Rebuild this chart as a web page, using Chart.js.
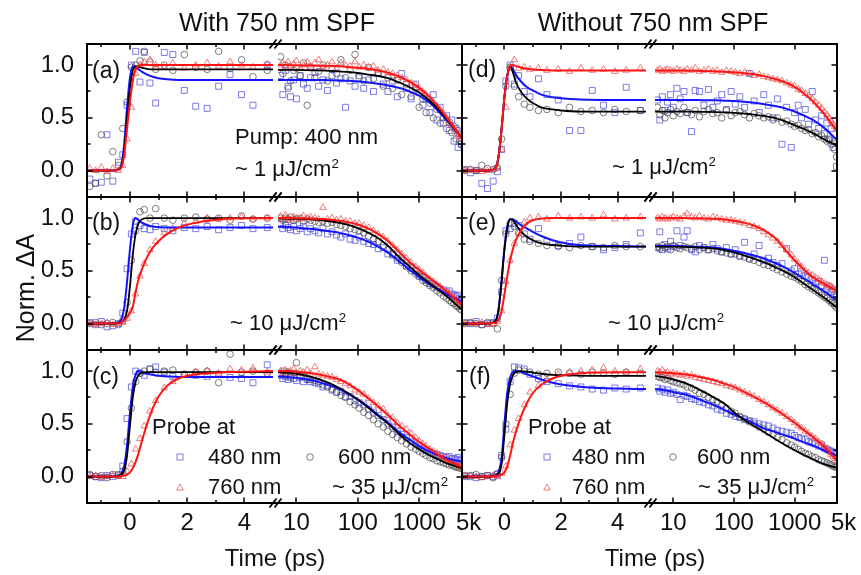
<!DOCTYPE html>
<html><head><meta charset="utf-8">
<script src="https://cdn.jsdelivr.net/npm/chart.js@4.4.1/dist/chart.umd.min.js"></script>
<style>
html,body{margin:0;padding:0;background:#fff;}
#fig{position:relative;width:861px;height:575px;overflow:hidden;background:#fff;font-family:'Liberation Sans',Arial,sans-serif;color:#111;}
#fig canvas{position:absolute;}
.t{position:absolute;line-height:1;white-space:nowrap;z-index:5;}
.c{transform:translate(-50%,-50%);}
.l{transform:translate(0,-50%);}
.sup{font-size:0.6em;position:relative;top:-0.6em;}
#marks{position:absolute;left:0;top:0;z-index:4;}
</style></head><body><div id="fig">
<div class="t c" style="left:277px;top:22px;font-size:25px">With 750 nm SPF</div>
<div class="t c" style="left:653px;top:22px;font-size:25px">Without 750 nm SPF</div>
<div class="t" style="left:25px;top:288px;font-size:25px;transform:translate(-50%,-50%) rotate(-90deg)">Norm. ΔA</div>
<div class="t c" style="left:275px;top:558px;font-size:24px">Time (ps)</div>
<div class="t c" style="left:655px;top:558px;font-size:24px">Time (ps)</div>
<div class="t l" style="left:92px;top:70px;font-size:23px">(a)</div>
<div class="t l" style="left:92px;top:222px;font-size:23px">(b)</div>
<div class="t l" style="left:92px;top:376px;font-size:23px">(c)</div>
<div class="t l" style="left:468px;top:69px;font-size:23px">(d)</div>
<div class="t l" style="left:468px;top:222px;font-size:23px">(e)</div>
<div class="t l" style="left:469px;top:376px;font-size:23px">(f)</div>
<div class="t l" style="left:235px;top:137px;font-size:22px">Pump: 400 nm</div>
<div class="t l" style="left:235px;top:169px;font-size:22px">~ 1 μJ/cm<span class="sup">2</span></div>
<div class="t l" style="left:612px;top:167px;font-size:22px">~ 1 μJ/cm<span class="sup">2</span></div>
<div class="t l" style="left:230px;top:323px;font-size:22px">~ 10 μJ/cm<span class="sup">2</span></div>
<div class="t l" style="left:608px;top:323px;font-size:22px">~ 10 μJ/cm<span class="sup">2</span></div>
<div class="t l" style="left:152px;top:427px;font-size:22px">Probe at</div>
<div class="t l" style="left:208px;top:457px;font-size:22px">480 nm</div>
<div class="t l" style="left:338px;top:457px;font-size:22px">600 nm</div>
<div class="t l" style="left:208px;top:487px;font-size:22px">760 nm</div>
<div class="t l" style="left:332px;top:487px;font-size:22px">~ 35 μJ/cm<span class="sup">2</span></div>
<div class="t l" style="left:528px;top:427px;font-size:22px">Probe at</div>
<div class="t l" style="left:572px;top:457px;font-size:22px">480 nm</div>
<div class="t l" style="left:697px;top:457px;font-size:22px">600 nm</div>
<div class="t l" style="left:572px;top:487px;font-size:22px">760 nm</div>
<div class="t l" style="left:698px;top:487px;font-size:22px">~ 35 μJ/cm<span class="sup">2</span></div>
<svg id="marks" width="861" height="575">
 <g fill="none" stroke-width="1">
  <rect x="177" y="454" width="6" height="6" stroke="rgba(80,80,225,0.75)"/>
  <circle cx="310" cy="457" r="3.3" stroke="rgba(70,70,70,0.7)"/>
  <polygon points="180,484 183.3,490 176.7,490" stroke="rgba(235,80,80,0.75)"/>
  <rect x="544" y="454" width="6" height="6" stroke="rgba(80,80,225,0.75)"/>
  <circle cx="673" cy="457" r="3.3" stroke="rgba(70,70,70,0.7)"/>
  <polygon points="547,484 550.3,490 543.7,490" stroke="rgba(235,80,80,0.75)"/>
 </g>
</svg>
</div>
<script>
// ---- time axes (ps) ----
const tDataL = [-1.4,-1.2,-1.0,-0.8,-0.6,-0.4,-0.25,-0.1,0.05,0.2,0.35,0.5,0.7,0.9,1.2,1.5,1.9,2.3,2.7,3.1,3.5,3.9,4.3,4.8];
const tDataG = [5.5,6,6.6,7.3,8,9,10,11.5,13,15,17,20,23,27,32,38,45,53,63,75,90,105,125,150,180,215,260,310,370,440,520,620,740,880,1000,1150,1300,1500,1700,1950,2200,2500,2800,3100,3400,3700,4000,4300,4600,4900];
const tFitL = [-1.5,-0.6,-0.4,-0.3,-0.2,-0.1,0,0.1,0.2,0.3,0.4,0.6,0.8,1.0,1.3,1.7,2.2,3,4,5];
const tFitG = [5,7,10,15,20,30,50,70,100,150,200,300,500,700,1000,1500,2000,3000,5000];
// ---- tick labels ----
const linTicks = [-1,0,1,2,3,4];
const linTickLabels = ['','0','','2','','4'];
const logTicks = [10,100,1000,5000];
const logTickLabels = ['10','100','1000','5k'];
const yTicks = [0,0.25,0.5,0.75,1];
const yTickLabels = ['0.0','','0.5','','1.0'];

// ---- panel (a) ----
const aBlueL = [-0.08,-0.12,-0.11,0.34,-0.1,0.08,0.15,0.62,1.0,1.13,0.84,1.12,0.83,0.64,1.12,1.1,0.76,0.61,0.59,0.8,0.91,0.72,0.62,1.0];
const aBlackL = [-0.15,-0.12,0.34,-0.05,0.18,0.05,0.4,0.65,0.98,1.0,1.04,1.13,1.03,0.96,1.0,0.95,1.1,0.98,0.96,1.13,0.97,1.05,0.89,0.95];
const aRedL = [0.02,0.0,0.03,-0.01,0.02,0.0,0.05,0.3,0.6,0.92,1.0,1.03,1.05,1.0,0.98,1.02,0.97,1.0,1.02,0.99,1.03,1.0,0.98,1.01];
const aBlueG = [0.9,0.72,0.95,0.8,0.7,0.86,0.68,0.9,0.82,0.78,0.88,0.93,0.8,0.86,0.76,0.9,0.83,0.87,0.6,0.85,0.8,0.88,0.78,0.86,0.75,0.92,0.82,0.75,0.85,0.7,0.92,0.78,0.68,0.82,0.74,0.62,0.68,0.55,0.72,0.48,0.6,0.45,0.52,0.38,0.48,0.28,0.4,0.22,0.35,0.25];
const aBlackG = [1.08,0.92,1.0,0.78,0.85,0.95,0.97,0.9,1.02,0.62,0.98,0.88,0.94,1.0,0.85,0.96,0.92,1.05,0.88,0.95,1.1,0.9,0.85,0.98,0.87,0.93,0.8,0.88,0.78,0.86,0.72,0.82,0.7,0.78,0.6,0.68,0.55,0.64,0.5,0.58,0.45,0.5,0.4,0.46,0.36,0.42,0.3,0.38,0.28,0.25];
const aRedG = [1.0,1.02,0.98,1.03,0.99,1.01,1.04,0.97,1.0,1.03,0.99,1.02,1.05,0.98,1.0,1.03,0.97,1.02,1.0,0.99,1.03,0.98,1.0,0.97,0.99,0.95,0.96,0.93,0.92,0.9,0.88,0.86,0.83,0.81,0.78,0.75,0.72,0.69,0.65,0.61,0.58,0.54,0.5,0.46,0.43,0.4,0.37,0.34,0.32,0.3];
const aRedFitL = [0,0,0.01,0.03,0.15,0.4,0.65,0.85,0.96,0.99,1,1,1,1,1,1,1,1,1,1];
const aBlackFitL = [0,0,0.01,0.04,0.2,0.5,0.78,0.95,0.99,0.985,0.975,0.965,0.96,0.96,0.96,0.96,0.96,0.96,0.96,0.96];
const aBlueFitL = [0,0,0.01,0.05,0.25,0.6,0.88,0.99,0.98,0.96,0.94,0.91,0.89,0.875,0.865,0.86,0.86,0.86,0.86,0.86];
const aRedFitG = [1,1,0.998,0.996,0.995,0.993,0.988,0.983,0.976,0.964,0.952,0.93,0.885,0.843,0.784,0.694,0.614,0.481,0.3];
const aBlackFitG = [0.955,0.955,0.954,0.952,0.95,0.947,0.94,0.935,0.925,0.91,0.9,0.88,0.83,0.79,0.74,0.66,0.59,0.47,0.31];
const aBlueFitG = [0.86,0.86,0.86,0.86,0.86,0.858,0.855,0.852,0.845,0.835,0.825,0.81,0.78,0.75,0.71,0.64,0.57,0.46,0.31];

// ---- panel (b) ----
const bBlueL = [0.01,-0.01,0.02,-0.03,-0.02,0.0,0.1,0.52,0.85,0.97,0.93,0.9,0.89,0.92,0.9,0.88,0.91,0.9,0.92,0.89,0.91,0.93,0.9,0.91];
const bBlackL = [0.0,0.01,-0.01,0.0,0.01,-0.01,0.03,0.2,0.6,0.88,1.06,1.08,1.0,1.09,1.0,0.98,1.0,1.01,0.99,1.0,0.98,1.02,0.99,1.0];
const bRedL = [0.0,-0.01,0.0,0.01,-0.01,0.0,0.01,0.05,0.12,0.28,0.45,0.57,0.7,0.78,0.86,0.9,0.95,0.97,1.0,0.99,1.0,1.01,0.99,1.0];
const bBlueG = [0.94,0.9,0.93,0.91,0.89,0.92,0.88,0.9,0.92,0.87,0.9,0.88,0.86,0.9,0.85,0.87,0.84,0.82,0.85,0.8,0.79,0.82,0.78,0.76,0.75,0.71,0.72,0.66,0.65,0.6,0.6,0.55,0.52,0.5,0.45,0.44,0.41,0.38,0.37,0.35,0.33,0.32,0.3,0.31,0.28,0.27,0.26,0.27,0.24,0.23];
const bBlackG = [1.0,0.98,1.0,0.99,1.01,0.98,0.99,1.0,0.97,0.99,0.98,0.97,0.96,0.97,0.95,0.96,0.94,0.93,0.92,0.9,0.89,0.88,0.86,0.83,0.8,0.78,0.74,0.7,0.66,0.62,0.58,0.54,0.5,0.47,0.45,0.41,0.39,0.36,0.34,0.31,0.29,0.26,0.24,0.22,0.2,0.19,0.17,0.16,0.14,0.13];
const bRedG = [1.02,0.99,1.03,1.0,0.98,1.01,1.0,0.99,1.02,1.0,1.01,1.0,0.99,1.1,0.99,1.0,0.98,0.99,0.97,0.97,0.95,0.95,0.93,0.91,0.88,0.85,0.82,0.78,0.74,0.7,0.66,0.62,0.58,0.54,0.51,0.48,0.45,0.42,0.4,0.37,0.35,0.32,0.3,0.29,0.26,0.24,0.22,0.21,0.2,0.18];
const bRedFitL = [0,0,0,0.01,0.03,0.06,0.1,0.16,0.3,0.42,0.5,0.63,0.72,0.78,0.85,0.91,0.95,0.985,0.998,1];
const bBlackFitL = [0,0,0.005,0.01,0.04,0.12,0.35,0.65,0.85,0.95,0.985,1,1,1,1,1,1,1,1,1];
const bBlueFitL = [0,0,0.01,0.04,0.15,0.4,0.7,0.93,1,0.98,0.96,0.935,0.92,0.915,0.91,0.91,0.91,0.91,0.91,0.91];
const bRedFitG = [1,1,0.999,0.997,0.994,0.988,0.975,0.962,0.94,0.9,0.86,0.79,0.665,0.585,0.51,0.43,0.375,0.29,0.18];
const bBlackFitG = [0.995,0.995,0.993,0.99,0.985,0.975,0.955,0.935,0.905,0.86,0.82,0.745,0.615,0.54,0.46,0.38,0.325,0.245,0.13];
const bBlueFitG = [0.92,0.915,0.91,0.9,0.895,0.88,0.86,0.84,0.815,0.775,0.74,0.68,0.58,0.51,0.44,0.37,0.33,0.27,0.21];

// ---- panel (c) ----
const cBlueL = [0.01,0.0,-0.01,0.01,0.0,0.02,0.1,0.55,0.85,1.0,0.98,0.96,1.02,1.04,0.99,0.95,0.97,0.96,0.95,0.97,0.94,0.93,0.89,1.06];
const cBlackL = [0.02,0.0,0.01,-0.01,0.02,0.01,0.05,0.33,0.65,0.9,0.98,1.0,1.02,0.99,1.0,1.01,0.97,0.99,1.0,0.89,1.16,0.99,1.0,0.98];
const cRedL = [0.0,0.01,-0.01,0.0,0.01,0.0,0.0,0.05,0.12,0.26,0.36,0.48,0.62,0.72,0.84,0.9,0.96,0.99,1.0,0.98,1.02,1.01,1.03,0.99];
const cBlueG = [0.96,0.93,0.95,0.92,0.94,0.93,0.91,0.94,0.9,0.92,0.9,0.89,0.88,0.85,0.86,0.82,0.8,0.81,0.76,0.76,0.72,0.7,0.68,0.64,0.61,0.58,0.54,0.5,0.47,0.43,0.4,0.37,0.33,0.31,0.29,0.27,0.25,0.23,0.22,0.21,0.2,0.19,0.18,0.19,0.17,0.17,0.16,0.18,0.15,0.16];
const cBlackG = [0.97,1.0,0.96,0.99,0.95,0.98,1.08,0.96,0.95,0.93,0.92,0.91,0.9,0.87,0.85,0.83,0.8,0.77,0.75,0.71,0.68,0.65,0.61,0.58,0.54,0.5,0.47,0.43,0.4,0.37,0.34,0.31,0.28,0.26,0.24,0.22,0.2,0.18,0.17,0.15,0.14,0.13,0.12,0.11,0.11,0.1,0.09,0.09,0.08,0.08];
const cRedG = [1.0,0.98,1.01,0.99,1.0,1.02,0.98,1.0,0.99,1.01,0.98,1.04,0.97,0.96,0.95,0.94,0.92,0.9,0.88,0.86,0.82,0.8,0.78,0.74,0.7,0.67,0.64,0.58,0.56,0.51,0.48,0.45,0.41,0.37,0.34,0.31,0.29,0.26,0.24,0.22,0.2,0.18,0.17,0.15,0.14,0.13,0.12,0.11,0.1,0.09];
const cRedFitL = [0,0,0,0.005,0.01,0.02,0.04,0.08,0.14,0.22,0.32,0.5,0.65,0.76,0.86,0.93,0.965,0.985,0.995,1];
const cBlackFitL = [0,0,0.01,0.02,0.06,0.2,0.48,0.75,0.9,0.96,0.985,0.99,0.99,0.99,0.99,0.99,0.99,0.99,0.99,0.99];
const cBlueFitL = [0,0,0.01,0.03,0.1,0.3,0.6,0.85,0.97,1,0.99,0.975,0.965,0.955,0.95,0.945,0.945,0.945,0.945,0.945];
const cRedFitG = [1,1,0.995,0.985,0.975,0.955,0.92,0.88,0.82,0.74,0.68,0.59,0.47,0.4,0.33,0.26,0.21,0.15,0.09];
const cBlackFitG = [0.99,0.985,0.975,0.955,0.935,0.9,0.84,0.79,0.73,0.65,0.59,0.51,0.39,0.32,0.26,0.2,0.165,0.12,0.08];
const cBlueFitG = [0.95,0.945,0.935,0.92,0.905,0.875,0.83,0.785,0.73,0.66,0.6,0.52,0.41,0.35,0.29,0.235,0.205,0.17,0.14];

// ---- panel (d) ----
const dBlueL = [0.01,-0.02,0.0,-0.12,-0.17,-0.1,-0.01,0.2,0.85,1.0,0.82,0.9,0.75,0.7,0.87,0.72,0.67,0.38,0.38,0.76,0.62,0.55,0.79,0.57];
const dBlackL = [0.0,0.01,0.0,0.05,0.02,0.01,0.03,0.3,0.8,0.98,0.8,0.7,0.63,0.6,0.57,0.58,0.55,0.6,0.56,0.57,0.55,0.58,0.56,0.57];
const dRedL = [0.0,0.01,0.0,-0.01,0.0,0.01,0.03,0.2,0.6,0.98,1.05,0.97,0.98,0.96,0.97,0.95,0.96,0.94,0.97,0.95,0.96,0.94,0.95,0.97];
const dBlueG = [0.67,0.48,0.7,0.57,0.65,0.72,0.6,0.78,0.68,0.75,0.55,0.37,0.76,0.75,0.62,0.77,0.6,0.66,0.72,0.58,0.75,0.63,0.7,0.6,0.92,0.66,0.55,0.72,0.62,0.5,0.68,0.25,0.6,0.22,0.55,0.62,0.5,0.58,0.44,0.75,0.48,0.4,0.52,0.35,0.45,0.3,0.4,0.22,0.28,0.04];
const dBlackG = [0.6,0.53,0.57,0.5,0.55,0.58,0.52,0.56,0.54,0.6,0.55,0.53,0.57,0.51,0.56,0.58,0.54,0.55,0.5,0.57,0.52,0.55,0.56,0.53,0.5,0.54,0.52,0.5,0.51,0.48,0.5,0.46,0.47,0.44,0.42,0.43,0.4,0.38,0.39,0.35,0.36,0.32,0.33,0.3,0.28,0.29,0.25,0.26,0.2,0.13];
const dRedG = [0.95,0.96,0.94,0.95,0.96,0.95,0.94,0.96,0.95,0.94,0.96,0.95,0.97,0.94,0.95,0.96,0.94,0.95,0.93,0.95,0.94,0.93,0.92,0.93,0.92,0.9,0.91,0.89,0.88,0.87,0.86,0.85,0.83,0.81,0.8,0.77,0.76,0.73,0.71,0.68,0.65,0.62,0.59,0.56,0.53,0.5,0.47,0.44,0.42,0.39];
const dRedFitL = [0,0,0.01,0.03,0.15,0.4,0.7,0.9,0.99,1,0.99,0.975,0.965,0.958,0.953,0.95,0.95,0.95,0.95,0.95];
const dBlackFitL = [0,0,0.01,0.03,0.15,0.4,0.7,0.9,0.99,0.93,0.84,0.74,0.68,0.64,0.6,0.58,0.565,0.56,0.56,0.56];
const dBlueFitL = [0,0,0.01,0.03,0.15,0.4,0.7,0.9,0.99,0.96,0.91,0.84,0.79,0.76,0.72,0.695,0.68,0.672,0.67,0.67];
const dRedFitG = [0.95,0.95,0.949,0.948,0.946,0.945,0.941,0.938,0.932,0.924,0.915,0.898,0.866,0.836,0.794,0.722,0.657,0.544,0.376];
const dBlackFitG = [0.56,0.56,0.56,0.56,0.559,0.557,0.555,0.552,0.548,0.54,0.533,0.518,0.495,0.467,0.43,0.39,0.355,0.3,0.235];
const dBlueFitG = [0.67,0.67,0.67,0.67,0.669,0.668,0.666,0.663,0.66,0.652,0.645,0.632,0.61,0.59,0.56,0.515,0.48,0.41,0.29];

// ---- panel (e) ----
const eBlueL = [0.01,0.0,0.02,-0.01,0.0,0.01,0.05,0.3,0.88,0.9,0.95,0.93,0.85,0.8,0.9,0.78,0.74,0.76,0.82,0.73,0.7,0.72,0.75,0.86];
const eBlackL = [0.0,0.01,0.0,-0.01,0.01,0.0,-0.05,0.41,0.85,0.95,0.92,0.86,0.8,0.78,0.76,0.74,0.73,0.72,0.74,0.73,0.72,0.74,0.73,0.73];
const eRedL = [0.0,0.01,0.0,0.01,-0.01,0.0,0.02,0.12,0.4,0.6,0.76,0.86,0.96,1.0,1.01,0.99,1.02,1.0,1.01,1.0,1.03,0.99,1.0,1.01];
const eBlueG = [0.72,0.87,0.7,0.75,0.71,0.78,0.73,0.88,0.74,0.82,0.88,0.7,0.68,0.74,0.72,0.7,0.75,0.71,0.68,0.72,0.66,0.7,0.64,0.77,0.62,0.66,0.74,0.6,0.62,0.58,0.55,0.57,0.71,0.5,0.52,0.47,0.48,0.45,0.44,0.42,0.38,0.4,0.36,0.6,0.33,0.35,0.3,0.32,0.27,0.25];
const eBlackG = [0.73,0.71,0.74,0.72,0.73,0.7,0.74,0.72,0.71,0.73,0.72,0.71,0.73,0.7,0.72,0.7,0.71,0.69,0.68,0.67,0.66,0.66,0.64,0.63,0.61,0.6,0.58,0.56,0.55,0.53,0.51,0.49,0.47,0.45,0.44,0.42,0.4,0.37,0.35,0.33,0.31,0.29,0.27,0.25,0.24,0.22,0.2,0.19,0.17,0.15];
const eRedG = [1.0,0.99,1.01,1.0,0.99,1.0,1.01,1.0,0.99,1.02,1.04,1.01,1.0,1.02,1.0,0.99,1.01,1.0,0.99,0.98,0.98,0.97,0.96,0.95,0.93,0.92,0.9,0.87,0.84,0.81,0.78,0.74,0.7,0.65,0.61,0.57,0.54,0.5,0.48,0.46,0.44,0.42,0.4,0.38,0.37,0.36,0.35,0.34,0.32,0.31];
const eRedFitL = [0,0,0.005,0.01,0.04,0.12,0.28,0.45,0.6,0.71,0.79,0.89,0.95,0.98,0.995,1,1,1,1,1];
const eBlackFitL = [0,0,0.01,0.03,0.15,0.4,0.7,0.9,0.99,0.98,0.94,0.87,0.82,0.79,0.76,0.745,0.735,0.73,0.73,0.73];
const eBlueFitL = [0,0,0.01,0.03,0.15,0.42,0.72,0.92,0.99,0.99,0.97,0.93,0.9,0.87,0.83,0.79,0.76,0.74,0.735,0.73];
const eRedFitG = [1,1,1,1,0.999,0.997,0.993,0.987,0.975,0.955,0.935,0.89,0.8,0.7,0.6,0.5,0.44,0.38,0.31];
const eBlackFitG = [0.73,0.73,0.73,0.728,0.725,0.72,0.71,0.695,0.675,0.645,0.62,0.585,0.53,0.49,0.44,0.37,0.32,0.25,0.15];
const eBlueFitG = [0.735,0.735,0.735,0.733,0.73,0.726,0.718,0.707,0.69,0.67,0.65,0.62,0.57,0.53,0.48,0.42,0.375,0.31,0.22];

// ---- panel (f) ----
const fBlueL = [0.0,0.01,-0.01,0.0,0.01,0.0,0.02,0.2,0.45,0.9,1.04,1.03,1.02,0.97,0.93,0.9,0.88,0.86,0.85,0.83,0.82,0.84,0.83,0.84];
const fBlackL = [0.01,0.0,0.02,0.0,0.01,-0.01,0.03,0.18,0.5,0.78,0.98,1.01,1.0,0.99,0.97,0.98,0.99,0.98,0.97,0.99,0.98,0.97,0.99,0.98];
const fRedL = [0.0,0.01,0.0,-0.01,0.0,0.01,0.0,0.03,0.1,0.3,0.44,0.55,0.68,0.8,0.86,0.92,0.97,0.99,1.0,1.01,1.03,1.0,0.99,1.02];
const fBlueG = [0.84,0.81,0.83,0.8,0.82,0.79,0.8,0.78,0.73,0.77,0.76,0.74,0.73,0.71,0.7,0.68,0.67,0.64,0.63,0.6,0.59,0.57,0.56,0.54,0.53,0.52,0.5,0.49,0.48,0.46,0.44,0.43,0.42,0.41,0.39,0.37,0.36,0.35,0.33,0.32,0.31,0.29,0.3,0.27,0.26,0.25,0.24,0.23,0.22,0.21];
const fBlackG = [0.95,0.94,0.94,0.92,0.93,0.91,0.9,0.89,0.88,0.87,0.85,0.84,0.82,0.79,0.78,0.75,0.73,0.71,0.68,0.65,0.62,0.6,0.57,0.55,0.52,0.5,0.47,0.45,0.42,0.4,0.37,0.35,0.32,0.3,0.28,0.26,0.24,0.22,0.21,0.19,0.18,0.16,0.15,0.14,0.13,0.12,0.11,0.1,0.09,0.09];
const fRedG = [1.0,0.99,1.01,0.98,0.99,0.97,0.98,0.97,0.96,0.97,0.95,0.96,0.94,0.93,0.92,0.91,0.9,0.89,0.88,0.86,0.85,0.84,0.82,0.8,0.78,0.76,0.73,0.71,0.68,0.65,0.63,0.6,0.57,0.54,0.51,0.48,0.46,0.43,0.41,0.38,0.36,0.33,0.31,0.28,0.26,0.24,0.21,0.19,0.17,0.15];
const fRedFitL = [0,0,0,0.005,0.01,0.02,0.04,0.1,0.2,0.32,0.42,0.58,0.7,0.79,0.87,0.93,0.965,0.985,0.99,0.99];
const fBlackFitL = [0,0,0.005,0.01,0.03,0.12,0.4,0.7,0.88,0.96,0.99,1,0.995,0.985,0.975,0.965,0.96,0.955,0.955,0.955];
const fBlueFitL = [0,0,0.005,0.015,0.05,0.18,0.5,0.8,0.94,0.99,1,0.99,0.97,0.95,0.92,0.89,0.865,0.845,0.835,0.83];
const fRedFitG = [0.99,0.985,0.98,0.97,0.96,0.94,0.91,0.88,0.85,0.8,0.765,0.71,0.63,0.575,0.51,0.43,0.375,0.29,0.15];
const fBlackFitG = [0.955,0.94,0.92,0.89,0.86,0.81,0.74,0.69,0.61,0.535,0.49,0.43,0.35,0.3,0.25,0.2,0.165,0.12,0.085];
const fBlueFitG = [0.83,0.82,0.8,0.78,0.76,0.72,0.67,0.63,0.59,0.545,0.515,0.46,0.42,0.39,0.36,0.32,0.295,0.25,0.2];

// ---- build ----
const panels = [
  {row:0,col:0,blue:[aBlueL,aBlueG],black:[aBlackL,aBlackG],red:[aRedL,aRedG],blueFit:[aBlueFitL,aBlueFitG],blackFit:[aBlackFitL,aBlackFitG],redFit:[aRedFitL,aRedFitG]},
  {row:1,col:0,blue:[bBlueL,bBlueG],black:[bBlackL,bBlackG],red:[bRedL,bRedG],blueFit:[bBlueFitL,bBlueFitG],blackFit:[bBlackFitL,bBlackFitG],redFit:[bRedFitL,bRedFitG]},
  {row:2,col:0,blue:[cBlueL,cBlueG],black:[cBlackL,cBlackG],red:[cRedL,cRedG],blueFit:[cBlueFitL,cBlueFitG],blackFit:[cBlackFitL,cBlackFitG],redFit:[cRedFitL,cRedFitG]},
  {row:0,col:1,blue:[dBlueL,dBlueG],black:[dBlackL,dBlackG],red:[dRedL,dRedG],blueFit:[dBlueFitL,dBlueFitG],blackFit:[dBlackFitL,dBlackFitG],redFit:[dRedFitL,dRedFitG]},
  {row:1,col:1,blue:[eBlueL,eBlueG],black:[eBlackL,eBlackG],red:[eRedL,eRedG],blueFit:[eBlueFitL,eBlueFitG],blackFit:[eBlackFitL,eBlackFitG],redFit:[eRedFitL,eRedFitG]},
  {row:2,col:1,blue:[fBlueL,fBlueG],black:[fBlackL,fBlackG],red:[fRedL,fRedG],blueFit:[fBlueFitL,fBlueFitG],blackFit:[fBlackFitL,fBlackFitG],redFit:[fRedFitL,fRedFitG]}
];

const FONT = "'Liberation Sans', Arial, sans-serif";
const ROWS = [[44,197],[197,350],[350,503]];
// lastLabelShift: leading spaces that nudge the "5k" label slightly right of the frame, as in the original
const COLS = [{lin:[87,273],log:[278,462],gap:5,lastLabelShift:2},{lin:[462,646],log:[655,837],gap:9,lastLabelShift:2}];
const M = {left:50,right:40,top:20,bottom:40};
const Y_AX = 45, X_AX = 35;

const framePlugin = {
  id:'frame',
  afterDatasetsDraw(chart, args, o) {
    const ctx = chart.ctx, a = chart.chartArea;
    const xs = chart.scales.x, ys = chart.scales.y;
    ctx.save();
    ctx.strokeStyle = '#000';
    ctx.lineWidth = 1.5;
    ctx.beginPath();
    xs.ticks.forEach(t => {
      const px = Math.round(xs.getPixelForValue(t.value));
      if (px <= a.left + 1 || px >= a.right - 1) return;
      const len = (o.seg === 'lin' && Math.abs(t.value) % 2 === 1) ? 3 : 5.5;
      ctx.moveTo(px, a.bottom); ctx.lineTo(px, a.bottom - len);
      ctx.moveTo(px, a.top); ctx.lineTo(px, a.top + len);
    });
    ys.ticks.forEach(t => {
      const py = Math.round(ys.getPixelForValue(t.value));
      const major = Math.abs(t.value * 2 - Math.round(t.value * 2)) < 1e-6;
      const len = major ? 5.5 : 3.5;
      if (o.seg === 'lin') { ctx.moveTo(a.left, py); ctx.lineTo(a.left + len, py); }
      else { ctx.moveTo(a.right, py); ctx.lineTo(a.right - len, py); }
    });
    ctx.stroke();
    ctx.lineWidth = 2;
    ctx.beginPath();
    if (o.seg === 'lin') {
      ctx.moveTo(a.right + o.gap, a.top); ctx.lineTo(a.left, a.top);
      ctx.lineTo(a.left, a.bottom); ctx.lineTo(a.right + o.gap, a.bottom);
    } else {
      ctx.moveTo(a.left, a.top); ctx.lineTo(a.right, a.top);
      ctx.lineTo(a.right, a.bottom); ctx.lineTo(a.left, a.bottom);
    }
    ctx.stroke();
    if (o.seg === 'log') {
      const cx = a.left - o.gap / 2;
      ctx.lineWidth = 1.8;
      [a.top, a.bottom].forEach(y => {
        ctx.beginPath();
        [-2.5, 2.5].forEach(dx => { ctx.moveTo(cx + dx - 3.5, y + 4.5); ctx.lineTo(cx + dx + 3.5, y - 4.5); });
        ctx.stroke();
      });
    }
    ctx.restore();
  }
};

const pts = (xs, ys) => xs.map((x, i) => ({x: x, y: ys[i]}));
const fig = document.getElementById('fig');

function makeChart(p, seg) {
  const si = seg === 'lin' ? 0 : 1;
  const [y0, y1] = ROWS[p.row];
  const col = COLS[p.col];
  const [x0, x1] = col[seg];
  const W = x1 - x0 + M.left + M.right, H = y1 - y0 + M.top + M.bottom;
  const cv = document.createElement('canvas');
  cv.width = W; cv.height = H;
  cv.style.left = (x0 - M.left) + 'px'; cv.style.top = (y0 - M.top) + 'px';
  cv.style.width = W + 'px'; cv.style.height = H + 'px';
  fig.insertBefore(cv, fig.firstChild);
  const tD = si === 0 ? tDataL : tDataG;
  const tF = si === 0 ? tFitL : tFitG;
  const sc = (ys, style, color, r, order) => ({data: pts(tD, ys), showLine: false, pointStyle: style, pointRadius: r,
      pointBorderColor: color, pointBackgroundColor: 'rgba(0,0,0,0)', pointBorderWidth: 1, order: order});
  const fit = (ys, color, w, order) => ({data: pts(tF, ys), showLine: true, borderColor: color, borderWidth: w,
      pointRadius: 0, cubicInterpolationMode: 'monotone', fill: false, order: order});
  const isLin = seg === 'lin';
  const xLabel = (v, i) => {
    if (isLin) return linTickLabels[i];
    const s = logTickLabels[i];
    return i === logTickLabels.length - 1 ? ' '.repeat(col.lastLabelShift) + s : s;
  };
  new Chart(cv, {
    type: 'scatter',
    data: {datasets: [
      fit(p.redFit[si], '#ff1414', 2, 0),
      fit(p.blackFit[si], '#000000', 1.8, 1),
      fit(p.blueFit[si], '#1414ff', 2, 2),
      sc(p.red[si], 'triangle', 'rgba(235,80,80,0.75)', 3.8, 3),
      sc(p.black[si], 'circle', 'rgba(70,70,70,0.7)', 3.3, 4),
      sc(p.blue[si], 'rect', 'rgba(80,80,225,0.75)', 4.2, 5)
    ]},
    options: {
      responsive: false, animation: false, devicePixelRatio: 1, events: [],
      layout: {padding: {left: M.left - Y_AX, right: M.right, top: M.top, bottom: M.bottom - X_AX}},
      plugins: {legend: {display: false}, tooltip: {enabled: false}, frame: {seg: seg, gap: col.gap}},
      scales: {
        x: {
          type: isLin ? 'linear' : 'logarithmic', min: isLin ? -1.5 : 5, max: isLin ? 5 : 5000, position: 'bottom',
          grid: {display: false}, border: {display: false},
          afterBuildTicks: s => { s.ticks = (isLin ? linTicks : logTicks).map(v => ({value: v})); },
          afterFit: s => { s.height = X_AX; },
          ticks: {display: p.row === 2, autoSkip: false, maxRotation: 0, minRotation: 0, padding: 0, color: '#111',
            font: {family: FONT, size: 24, lineHeight: 1},
            callback: xLabel}
        },
        y: {
          type: 'linear', min: -0.25, max: 1.2, position: 'left',
          grid: {display: false}, border: {display: false},
          afterBuildTicks: s => { s.ticks = yTicks.map(v => ({value: v})); },
          afterFit: s => { s.width = Y_AX; },
          ticks: {display: p.col === 0 && isLin, autoSkip: false, padding: 5, color: '#111',
            font: {family: FONT, size: 24, lineHeight: 1},
            callback: (v, i) => yTickLabels[i]}
        }
      }
    },
    plugins: [framePlugin]
  });
}

panels.forEach(p => { makeChart(p, 'lin'); makeChart(p, 'log'); });
</script>
</body></html>
